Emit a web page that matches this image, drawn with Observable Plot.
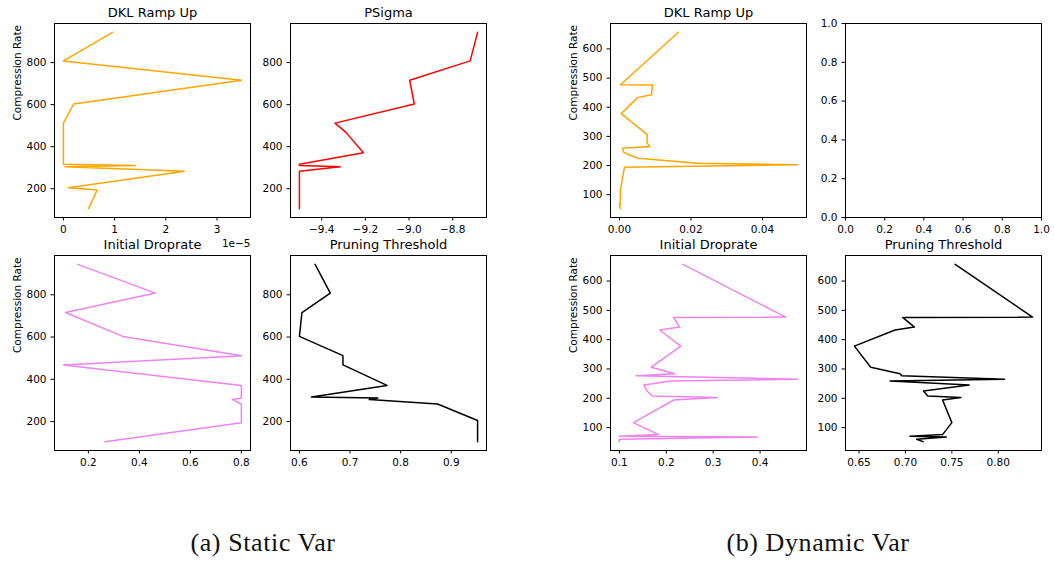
<!DOCTYPE html>
<html>
<head>
<meta charset="utf-8">
<script src="https://cdn.jsdelivr.net/npm/d3@7"></script>
<script src="https://cdn.jsdelivr.net/npm/@observablehq/plot@0.6"></script>
<style>
  html, body { margin: 0; padding: 0; background: #fff; }
  #fig { position: relative; width: 1054px; height: 562px; background: #fff; overflow: hidden; }
  #fig > svg { position: absolute; }
</style>
</head>
<body>
<div id="fig"></div>
<script>
// ---- Static variance run ----
const staticRate = [944, 808, 716, 603, 512, 468, 371, 316, 311, 304, 283, 205, 194, 105];
const staticDklRampUp = [0.96e-5, 0.0, 3.48e-5, 0.2e-5, 0.0, 0.0, 0.0, 0.0, 1.41e-5, 0.03e-5, 2.36e-5, 0.1e-5, 0.66e-5, 0.49e-5];
const staticPSigma = [-8.686, -8.72, -8.997, -8.976, -9.339, -9.289, -9.209, -9.502, -9.502, -9.315, -9.502, -9.502, -9.502, -9.502];
const staticDroprate = [0.158, 0.463, 0.110, 0.335, 0.801, 0.102, 0.80, 0.80, 0.80, 0.765, 0.80, 0.80, 0.80, 0.265];
const staticThreshold = [0.631, 0.661, 0.605, 0.600, 0.686, 0.686, 0.773, 0.624, 0.755, 0.738, 0.873, 0.952, 0.952, 0.952];

// ---- Dynamic variance run ----
const dynamicRate = [657, 477, 476, 443, 433, 378, 306, 284, 277, 265, 259, 245, 225, 208, 203, 194, 117, 76, 70, 68, 60, 52];
const dynamicDklRampUp = [0.0165, 0.0003, 0.0092, 0.0090, 0.0051, 0.0005, 0.0078, 0.0077, 0.0077, 0.0085, 0.0009, 0.0012, 0.0051, 0.0218, 0.0498, 0.0014, 0.0003, 0.0002, 0.0, 0.0004, 0.0, 0.0003];
const dynamicDroprate = [0.2355, 0.4546, 0.2156, 0.2284, 0.186, 0.231, 0.168, 0.2177, 0.1355, 0.480, 0.209, 0.152, 0.159, 0.170, 0.309, 0.216, 0.130, 0.183, 0.100, 0.394, 0.100, 0.100];
const dynamicThreshold = [0.7536, 0.837, 0.697, 0.7097, 0.6888, 0.645, 0.6626, 0.6942, 0.696, 0.8068, 0.6834, 0.7687, 0.7194, 0.724, 0.7597, 0.740, 0.750, 0.740, 0.705, 0.744, 0.712, 0.719];

// ---- Tick labels ----
const staticRateTicks = [200, 400, 600, 800];
const dynamicRateTicks = [100, 200, 300, 400, 500, 600];
const staticDklTicks = [0, 1e-5, 2e-5, 3e-5];
const staticPSigmaTicks = [-9.4, -9.2, -9.0, -8.8];
const staticDroprateTicks = [0.2, 0.4, 0.6, 0.8];
const staticThresholdTicks = [0.6, 0.7, 0.8, 0.9];
const dynamicDklTicks = [0, 0.02, 0.04];
const dynamicDroprateTicks = [0.1, 0.2, 0.3, 0.4];
const dynamicThresholdTicks = [0.65, 0.70, 0.75, 0.80];
const unitTicks = [0, 0.2, 0.4, 0.6, 0.8, 1.0];

const titles = ["DKL Ramp Up", "PSigma", "Initial Droprate", "Pruning Threshold"];
const yTitle = "Compression Rate";
const captions = ["(a) Static Var", "(b) Dynamic Var"];

const fig = document.getElementById("fig");
const FONT = "DejaVu Sans";
const mL = 50, mR = 15, mT = 30, mB = 35;

// matplotlib-style 5% data margins
function pad(vals) {
  const [a, b] = d3.extent(vals);
  const m = (b - a) * 0.05;
  return [a - m, b + m];
}

const f1 = d3.format(".1f"), f2 = d3.format(".2f"), f0 = d3.format("d");

function panel(o) {
  const rows = o.values ? o.values.map((v, i) => ({v, rate: o.rate[i]})) : [];
  const marks = [
    Plot.frame({stroke: "black", strokeWidth: 1}),
    Plot.axisX({ticks: o.xTicks, tickFormat: o.xFmt, tickSize: 3.5, tickPadding: 4.5, label: null, fontSize: 10.5}),
    Plot.axisY({ticks: o.yTicks, tickFormat: o.yFmt, tickSize: 3.5, tickPadding: 4.5, label: null, fontSize: 10.5})
  ];
  if (rows.length) marks.push(Plot.line(rows, {x: "v", y: "rate", stroke: o.color, strokeWidth: 1.5}));
  if (o.title) marks.push(Plot.text([o.title], {text: d => d, frameAnchor: "top", dy: -6.5, lineAnchor: "bottom", fontSize: 13}));
  if (o.ylabel) marks.push(Plot.text([o.ylabel], {text: d => d, frameAnchor: "left", dx: -37, rotate: -90, fontSize: 10.5}));
  if (o.offset) marks.push(Plot.text([o.offset], {text: d => d, frameAnchor: "bottom-right", textAnchor: "end", lineAnchor: "middle", dy: 26, fontSize: 10.5}));
  const svg = Plot.plot({
    width: o.w + mL + mR,
    height: o.h + mT + mB,
    marginLeft: mL, marginRight: mR, marginTop: mT, marginBottom: mB,
    style: {fontFamily: FONT, fontSize: "10.5px", color: "black", background: "transparent", overflow: "visible"},
    x: {domain: o.xDomain, label: null},
    y: {domain: o.yDomain, label: null},
    marks
  });
  svg.style.left = (o.left - mL) + "px";
  svg.style.top = (o.top - mT) + "px";
  fig.appendChild(svg);
}

const W = 196;
const colL = [54, 289.5, 610, 845];
const rowT = [22.7, 255];
const H = [194, 195];

const sY = pad(staticRate), dY = pad(dynamicRate);

// Static Var
panel({left: colL[0], top: rowT[0], w: W, h: H[0], rate: staticRate, values: staticDklRampUp, color: "orange",
  xDomain: pad(staticDklRampUp), yDomain: sY, xTicks: staticDklTicks, xFmt: d => f0(Math.round(d * 1e5)),
  yTicks: staticRateTicks, yFmt: f0, title: titles[0], ylabel: yTitle, offset: "1e\u22125"});
panel({left: colL[1], top: rowT[0], w: W, h: H[0], rate: staticRate, values: staticPSigma, color: "red",
  xDomain: pad(staticPSigma), yDomain: sY, xTicks: staticPSigmaTicks, xFmt: f1,
  yTicks: staticRateTicks, yFmt: f0, title: titles[1]});
panel({left: colL[0], top: rowT[1], w: W, h: H[1], rate: staticRate, values: staticDroprate, color: "violet",
  xDomain: pad(staticDroprate), yDomain: sY, xTicks: staticDroprateTicks, xFmt: f1,
  yTicks: staticRateTicks, yFmt: f0, title: titles[2], ylabel: yTitle});
panel({left: colL[1], top: rowT[1], w: W, h: H[1], rate: staticRate, values: staticThreshold, color: "black",
  xDomain: pad(staticThreshold), yDomain: sY, xTicks: staticThresholdTicks, xFmt: f1,
  yTicks: staticRateTicks, yFmt: f0, title: titles[3]});

// Dynamic Var
panel({left: colL[2], top: rowT[0], w: W, h: H[0], rate: dynamicRate, values: dynamicDklRampUp, color: "orange",
  xDomain: pad(dynamicDklRampUp), yDomain: dY, xTicks: dynamicDklTicks, xFmt: f2,
  yTicks: dynamicRateTicks, yFmt: f0, title: titles[0], ylabel: yTitle});
panel({left: colL[3], top: rowT[0], w: W, h: H[0],
  xDomain: [0, 1], yDomain: [0, 1], xTicks: unitTicks, xFmt: f1, yTicks: unitTicks, yFmt: f1});
panel({left: colL[2], top: rowT[1], w: W, h: H[1], rate: dynamicRate, values: dynamicDroprate, color: "violet",
  xDomain: pad(dynamicDroprate), yDomain: dY, xTicks: dynamicDroprateTicks, xFmt: f1,
  yTicks: dynamicRateTicks, yFmt: f0, title: titles[2], ylabel: yTitle});
panel({left: colL[3], top: rowT[1], w: W, h: H[1], rate: dynamicRate, values: dynamicThreshold, color: "black",
  xDomain: pad(dynamicThreshold), yDomain: dY, xTicks: dynamicThresholdTicks, xFmt: f2,
  yTicks: dynamicRateTicks, yFmt: f0, title: titles[3]});

// Sub-figure captions
const cap = d3.select(fig).append("svg")
  .attr("width", 1054).attr("height", 562)
  .style("left", "0px").style("top", "0px").style("pointer-events", "none");
cap.selectAll("text").data(captions).join("text")
  .attr("x", (d, i) => [263, 818][i])
  .attr("y", 551)
  .attr("text-anchor", "middle")
  .attr("font-family", "Liberation Serif, serif")
  .attr("font-size", 26)
  .attr("letter-spacing", 0.6)
  .attr("fill", "#111")
  .text(d => d);
</script>
</body>
</html>
